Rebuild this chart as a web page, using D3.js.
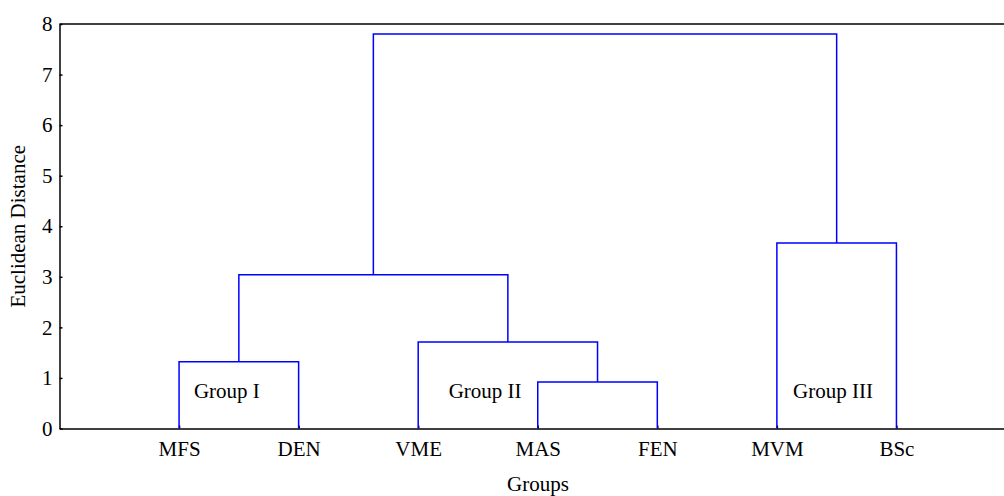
<!DOCTYPE html>
<html>
<head>
<meta charset="utf-8">
<script src="https://cdn.jsdelivr.net/npm/d3@7"></script>
<style>
  body { margin: 0; background: #fff; }
  svg { display: block; font-family: "Liberation Serif", "Times New Roman", serif; }
  .axis path, .axis line { stroke: #000; stroke-width: 1.5; }
  .axis text { font-size: 21px; fill: #000; font-family: "Liberation Serif", "Times New Roman", serif; }
  .link { fill: none; stroke: #0000ff; stroke-width: 1.5; }
  .label { font-size: 21px; fill: #000; }
</style>
</head>
<body>
<svg width="1004" height="496"></svg>
<script>
var svg = d3.select("svg"),
    width = +svg.attr("width"),
    height = +svg.attr("height");

// leaves in display order
var leaves = ["MFS", "DEN", "VME", "MAS", "FEN", "MVM", "BSc"];

// linkage: ids 0-6 are leaves, each merge gets the next id (7, 8, ...)
var mergeA = [3, 0, 2, 8, 5, 10];
var mergeB = [4, 1, 7, 9, 6, 11];
var mergeHeight = [0.92, 1.32, 1.71, 3.04, 3.67, 7.80];

var yTicks = [0, 1, 2, 3, 4, 5, 6, 7, 8];

var groupNames = ["Group I", "Group II", "Group III"];
var groupPos = [1.40, 3.56, 6.47];  // position on leaf axis
var groupY = 0.6;

var x = d3.scaleLinear().domain([0, 8]).range([59.5, 1016]);
var y = d3.scaleLinear().domain([0, 8]).range([428.5, 24]);

// node positions
var nodes = leaves.map(function (d, i) { return {x: i + 1, h: 0}; });
mergeA.forEach(function (a, i) {
  var b = mergeB[i];
  nodes.push({x: (nodes[a].x + nodes[b].x) / 2, h: mergeHeight[i], a: a, b: b});
});

var g = svg.append("g");

//-----------------------------------------------------------------
// axes
g.append("g")
    .attr("class", "axis")
    .attr("transform", "translate(" + x(0) + ",0)")
    .call(d3.axisLeft(y).tickValues(yTicks).tickSize(-3).tickPadding(7).tickSizeOuter(0));

g.append("g")
    .attr("class", "axis")
    .attr("transform", "translate(0," + y(0) + ")")
    .call(d3.axisBottom(x)
        .tickValues(leaves.map(function (d, i) { return i + 1; }))
        .tickFormat(function (d) { return leaves[d - 1]; })
        .tickSize(-3).tickPadding(13).tickSizeOuter(0));

g.append("line")
    .attr("x1", x(0)).attr("x2", width)
    .attr("y1", y(8)).attr("y2", y(8))
    .attr("stroke", "#000").attr("stroke-width", 1.5);

//-----------------------------------------------------------------
// dendrogram elbows
nodes.slice(leaves.length).forEach(function (n) {
  var a = nodes[n.a], b = nodes[n.b];
  g.append("path")
      .attr("class", "link")
      .attr("d", "M" + x(a.x) + "," + y(a.h) +
                 "V" + y(n.h) +
                 "H" + x(b.x) +
                 "V" + y(b.h));
});

//-----------------------------------------------------------------
// group labels
groupNames.forEach(function (name, i) {
  g.append("text")
      .attr("class", "label")
      .attr("x", x(groupPos[i]))
      .attr("y", y(groupY))
      .attr("text-anchor", "middle")
      .text(name);
});

svg.append("text")
    .attr("class", "label")
    .attr("x", 538)
    .attr("y", 491)
    .attr("text-anchor", "middle")
    .text("Groups");

svg.append("text")
    .attr("class", "label")
    .attr("transform", "translate(25," + ((y(0) + y(8)) / 2) + ") rotate(-90)")
    .attr("text-anchor", "middle")
    .text("Euclidean Distance");
</script>
</body>
</html>
